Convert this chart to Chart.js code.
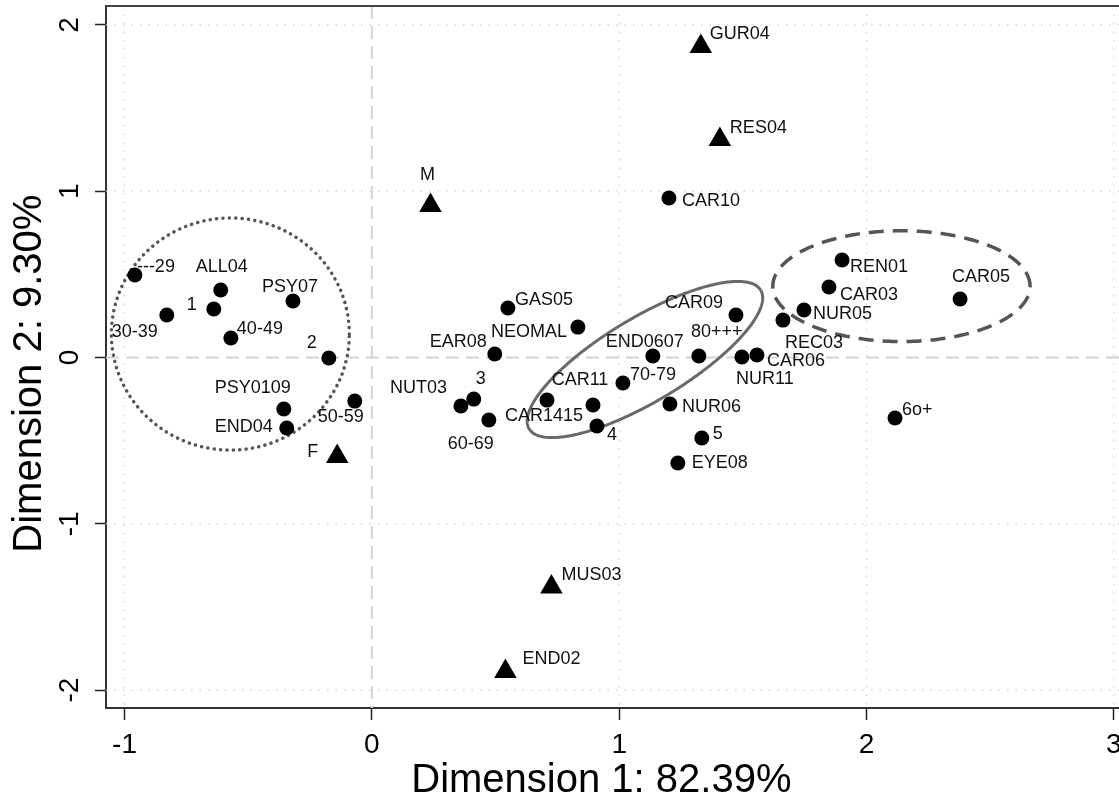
<!DOCTYPE html>
<html lang="en">
<head>
<meta charset="UTF-8">
<title>Correspondence analysis map</title>
<script src="https://cdn.jsdelivr.net/npm/chart.js"></script>
<style>
    body { margin: 0; background: #fff; }
    .chart-container { width: 1119px; height: 795px; }
</style>
</head>
<body>
<div class="chart-container">
    <canvas id="myChart" width="1119" height="795"></canvas>
</div>
<script>
// active categories (circles)
const pointLabels = ['---29', 'ALL04', '1', '30-39', 'PSY07', '40-49', '2', 'PSY0109', 'END04', '50-59',
    'GAS05', 'NEOMAL', 'EAR08', 'NUT03', '3', '60-69', 'CAR1415', 'CAR11', '4', '70-79',
    'END0607', 'CAR09', '80+++', 'NUR06', '5', 'EYE08', 'NUR11', 'CAR06', 'REC03', 'NUR05',
    'CAR03', 'REN01', 'CAR05', '6o+', 'CAR10'];
const pointX = [-0.958, -0.611, -0.639, -0.829, -0.319, -0.570, -0.174, -0.356, -0.344, -0.069,
    0.550, 0.833, 0.497, 0.360, 0.412, 0.473, 0.708, 0.894, 0.910, 1.015,
    1.136, 1.472, 1.322, 1.205, 1.334, 1.237, 1.496, 1.557, 1.662, 1.747,
    1.848, 1.901, 2.378, 2.115, 1.201];
const pointY = [0.496, 0.406, 0.292, 0.256, 0.340, 0.117, -0.003, -0.310, -0.424, -0.262,
    0.298, 0.183, 0.021, -0.292, -0.250, -0.376, -0.256, -0.286, -0.412, -0.153,
    0.009, 0.256, 0.009, -0.280, -0.484, -0.634, 0.003, 0.015, 0.225, 0.286,
    0.424, 0.586, 0.352, -0.364, 0.959];

// supplementary categories (triangles)
const triLabels = ['GUR04', 'RES04', 'M', 'F', 'MUS03', 'END02'];
const triX = [1.330, 1.407, 0.237, -0.140, 0.726, 0.540];
const triY = [1.870, 1.311, 0.914, -0.595, -1.380, -1.888];

const xTicks = [-1, 0, 1, 2, 3];
const yTicks = [-2, -1, 0, 1, 2];

// where each text sits next to its marker: [dx px, dy px, align]
const pointLabelPos = [
    [2, -8, 'left'], [1, -23, 'center'], [-17, -4, 'right'], [-32, 17, 'center'], [-3, -14, 'center'],
    [6, -9, 'left'], [-12, -15, 'right'], [-31, -21, 'center'], [-14, -1, 'right'], [-14, 16, 'center'],
    [7, -8, 'left'], [-11, 5, 'right'], [-8, -12, 'right'], [-14, -18, 'right'], [7, -20, 'center'],
    [-18, 24, 'center'], [-3, 16, 'center'], [-13, -25, 'center'], [10, 9, 'left'], [7, -8, 'left'],
    [-8, -14, 'center'], [-42, -12, 'center'], [18, -24, 'center'], [12, 3, 'left'], [11, -4, 'left'],
    [14, 0, 'left'], [23, 22, 'center'], [10, 6, 'left'], [31, 23, 'center'], [9, 4, 'left'],
    [11, 8, 'left'], [8, 7, 'left'], [21, -22, 'center'], [7, -8, 'left'], [13, 3, 'left']
];
const triLabelPos = [
    [9, -12, 'left'], [10, -11, 'left'], [-3, -30, 'center'], [-19, -4, 'right'], [10, -12, 'left'], [17, -12, 'left']
];

// cluster outlines: centre and two half-axis vectors, in data units
const clusters = [
    { style: 'dotted', c: [-0.572, 0.141], u: [0.481, 0], v: [0, 0.698] },
    { style: 'solid', c: [1.104, -0.012], u: [0.468, 0.417], v: [0.0874, -0.216] },
    { style: 'dashed', c: [2.141, 0.429], u: [0.520, 0], v: [0, 0.333] }
];

const FONT = '"Liberation Sans", Arial, sans-serif';

function line(ctx, x1, y1, x2, y2) {
    ctx.beginPath();
    ctx.moveTo(x1, y1);
    ctx.lineTo(x2, y2);
    ctx.stroke();
}

const overlay = {
    id: 'overlay',
    beforeDatasetsDraw(chart) {
        const { ctx, chartArea: a, scales: { x, y } } = chart;
        ctx.save();
        ctx.beginPath();
        ctx.rect(a.left, a.top, a.right - a.left, a.bottom - a.top);
        ctx.clip();

        // grid: dotted, zero lines dashed
        const grid = (isZero) => {
            if (isZero) {
                ctx.strokeStyle = '#d4d4d4'; ctx.lineWidth = 2; ctx.setLineDash([13, 7]);
            } else {
                ctx.strokeStyle = '#d2d2d2'; ctx.lineWidth = 1.2; ctx.setLineDash([1.5, 7]);
            }
        };
        x.ticks.forEach(t => {
            const px = x.getPixelForValue(t.value);
            grid(t.value === 0);
            line(ctx, px, a.top, px, a.bottom);
        });
        y.ticks.forEach(t => {
            const py = y.getPixelForValue(t.value);
            grid(t.value === 0);
            line(ctx, a.left, py, a.right, py);
        });

        // cluster ellipses
        clusters.forEach(cl => {
            ctx.beginPath();
            for (let k = 0; k <= 360; k++) {
                const t = k * Math.PI / 180;
                const vx = cl.c[0] + Math.cos(t) * cl.u[0] + Math.sin(t) * cl.v[0];
                const vy = cl.c[1] + Math.cos(t) * cl.u[1] + Math.sin(t) * cl.v[1];
                const px = x.getPixelForValue(vx), py = y.getPixelForValue(vy);
                if (k === 0) ctx.moveTo(px, py); else ctx.lineTo(px, py);
            }
            if (cl.style === 'dotted') {
                ctx.strokeStyle = '#555'; ctx.lineWidth = 3.5; ctx.lineCap = 'round'; ctx.setLineDash([0.1, 6.3]);
            } else if (cl.style === 'dashed') {
                ctx.strokeStyle = '#555'; ctx.lineWidth = 3.5; ctx.lineCap = 'butt'; ctx.setLineDash([15, 9]);
            } else {
                ctx.strokeStyle = '#6a6a6a'; ctx.lineWidth = 3; ctx.lineCap = 'butt'; ctx.setLineDash([]);
            }
            ctx.stroke();
        });
        ctx.restore();

        // top frame line
        ctx.save();
        ctx.strokeStyle = '#444';
        ctx.lineWidth = 2;
        line(ctx, a.left, a.top, a.right, a.top);
        ctx.restore();
    },
    afterDatasetsDraw(chart) {
        const { ctx, scales: { x } } = chart;
        ctx.save();
        ctx.fillStyle = '#111';
        ctx.font = '18px ' + FONT;
        ctx.textBaseline = 'middle';
        const put = (meta, labels, pos) => {
            meta.data.forEach((el, i) => {
                const [dx, dy, align] = pos[i];
                ctx.textAlign = align;
                ctx.fillText(labels[i], el.x + dx, el.y + dy);
            });
        };
        put(chart.getDatasetMeta(0), pointLabels, pointLabelPos);
        put(chart.getDatasetMeta(1), triLabels, triLabelPos);

        // x tick labels (the last one runs off the canvas, as in the original)
        ctx.fillStyle = '#000';
        ctx.font = '28px ' + FONT;
        ctx.textAlign = 'center';
        x.ticks.forEach(t => {
            ctx.fillText(String(t.value), x.getPixelForValue(t.value), 745);
        });
        ctx.restore();
    }
};

const ctx = document.getElementById('myChart').getContext('2d');
new Chart(ctx, {
    type: 'scatter',
    data: {
        datasets: [{
            label: 'categories',
            data: pointX.map((v, i) => ({ x: v, y: pointY[i] })),
            pointStyle: 'circle',
            pointRadius: 7.5,
            backgroundColor: '#000',
            borderWidth: 0
        }, {
            label: 'supplementary',
            data: triX.map((v, i) => ({ x: v, y: triY[i] })),
            pointStyle: 'triangle',
            pointRadius: 13,
            backgroundColor: '#000',
            borderWidth: 0
        }]
    },
    options: {
        responsive: false,
        animation: false,
        devicePixelRatio: 1,
        layout: { autoPadding: false, padding: { top: 6, right: 0, bottom: 0, left: 0 } },
        plugins: {
            legend: { display: false },
            tooltip: { enabled: false }
        },
        scales: {
            x: {
                type: 'linear',
                min: -1.0748,
                max: 3.0206,
                afterBuildTicks: s => { s.ticks = xTicks.map(v => ({ value: v })); },
                afterFit: s => { s.height = 87; s.paddingLeft = 0; s.paddingRight = 0; },
                grid: { drawOnChartArea: false, drawTicks: true, tickLength: 12, tickColor: '#222', tickWidth: 1.5 },
                border: { display: true, color: '#333', width: 2 },
                ticks: { display: false },
                title: {
                    display: true, text: 'Dimension 1: 82.39%  ', color: '#000',
                    font: { family: FONT, size: 40 }, padding: { top: 0, bottom: -10 }
                }
            },
            y: {
                type: 'linear',
                min: -2.1076,
                max: 2.1137,
                afterBuildTicks: s => { s.ticks = yTicks.map(v => ({ value: v })); },
                afterFit: s => { s.width = 106; s.paddingTop = 0; s.paddingBottom = 0; },
                grid: { drawOnChartArea: false, drawTicks: true, tickLength: 11, tickColor: '#222', tickWidth: 1.5 },
                border: { display: true, color: '#333', width: 2 },
                ticks: {
                    autoSkip: false, minRotation: 90, maxRotation: 90, crossAlign: 'center', padding: 12, color: '#000',
                    font: { family: FONT, size: 28 },
                    callback: v => String(v)
                },
                title: {
                    display: true, text: 'Dimension 2: 9.30%   ', color: '#000',
                    font: { family: FONT, size: 40 }, padding: { top: 6, bottom: 0 }
                }
            }
        }
    },
    plugins: [overlay]
});
</script>
</body>
</html>
